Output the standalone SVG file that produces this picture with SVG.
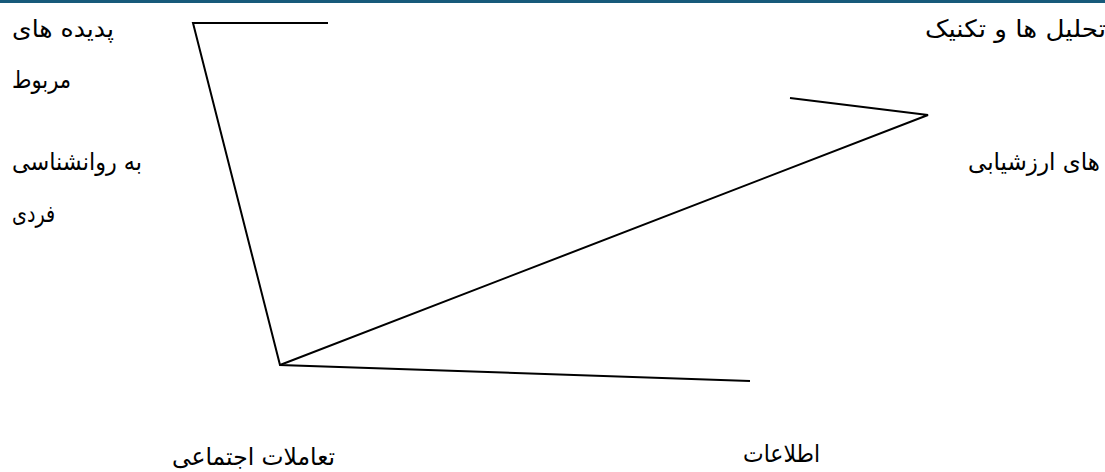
<svg xmlns="http://www.w3.org/2000/svg" width="1105" height="472" viewBox="0 0 1105 472">
<style>
.t{font-family:"DejaVu Sans",sans-serif;font-size:24px;fill:#000}
.c{fill:none;stroke:#000;stroke-width:2;stroke-linejoin:miter}
</style>
<rect x="0" y="0" width="1105" height="472" fill="#fff"/>
<rect x="0" y="0" width="1105" height="3" fill="#175a7a"/>
<g id="connectors">
<polyline class="c" points="328,23 193,23 280,365 750,381"/>
<polyline class="c" points="790,98 928,115 280,365"/>
</g>
<g id="node-left">
<text class="t" x="12" y="37" textLength="102" lengthAdjust="spacingAndGlyphs">پدیده های</text>
<text class="t" x="12" y="88" textLength="59" lengthAdjust="spacingAndGlyphs">مربوط</text>
<text class="t" x="12" y="170" textLength="130" lengthAdjust="spacingAndGlyphs">به روانشناسی</text>
<text class="t" x="12" y="222" textLength="43" lengthAdjust="spacingAndGlyphs">فردی</text>
</g>
<g id="node-right">
<text class="t" x="925" y="37" textLength="181" lengthAdjust="spacingAndGlyphs">تحلیل ها و تکنیک</text>
<text class="t" x="968" y="170" textLength="132" lengthAdjust="spacingAndGlyphs">های ارزشیابی</text>
</g>
<g id="node-bottom-left">
<text class="t" x="172" y="465" textLength="163" lengthAdjust="spacingAndGlyphs">تعاملات اجتماعی</text>
</g>
<g id="node-bottom-right">
<text class="t" x="743" y="462" textLength="77" lengthAdjust="spacingAndGlyphs">اطلاعات</text>
</g>
</svg>
